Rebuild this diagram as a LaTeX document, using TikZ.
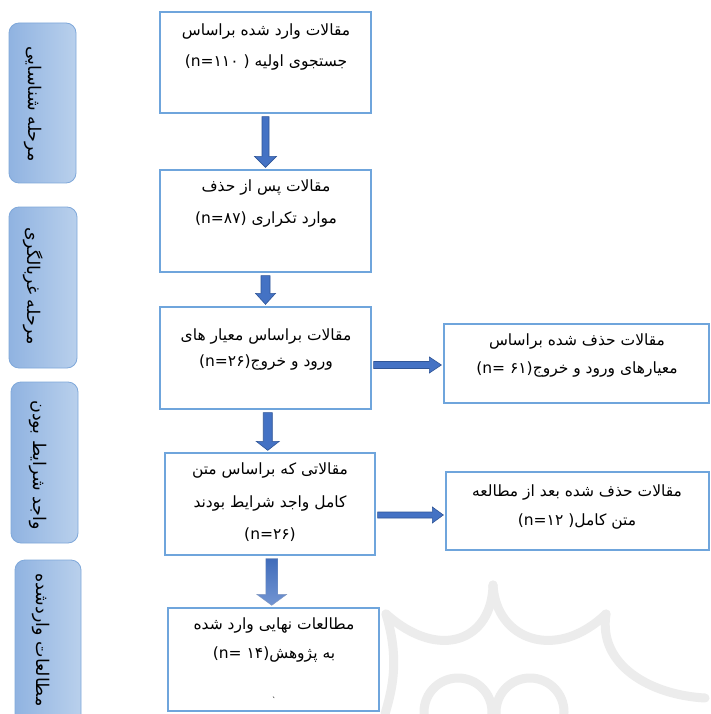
\documentclass[tikz,border=0pt]{standalone}
\usepackage{fontspec}
\usetikzlibrary{calc}
\TeXXeTstate=1
\newfontfamily\fa[Script=Arabic]{DejaVu Sans}
\newfontfamily\la{DejaVu Sans}
\definecolor{boxline}{HTML}{6FA5DC}
\definecolor{arrfill}{HTML}{4472C4}
\definecolor{arrline}{HTML}{2F5597}
\definecolor{lblL}{HTML}{90B3E1}
\definecolor{lblR}{HTML}{B9D0EC}
\definecolor{lblline}{HTML}{7FA8DA}
\definecolor{wm}{HTML}{ECECEC}
% Latin count in visual order: pre, digits, post
\newcommand{\cnt}[3]{\beginL\hbox{\la #1}\hbox{\la #2}\hbox{\la #3}\endL}
\tikzset{
  box/.style={draw=boxline, line width=1.3pt, fill=white, inner sep=0pt},
  txt/.style={font=\fa\fontsize{15.5}{18}\selectfont, inner sep=0pt, text=black},
  lbl/.style={draw=lblline, line width=0.8pt, rounded corners=10pt, left color=lblL, right color=lblR, inner sep=0pt},
  lbltxt/.style={font=\fa\fontsize{17.5}{20}\selectfont, inner sep=0pt, rotate=-90},
  blk/.style={fill=arrfill, draw=arrline, line width=0.6pt, line join=miter},
  blkg/.style={top color=arrfill!95!black, bottom color=arrfill!75!white, draw=arrline!60!white, line width=0.4pt},
}
% vertical block arrow: from, to, half shaft, half head, head length, style
\newcommand{\vblock}[6]{%
\path[#6] let \p1=(#1.south), \p2=(#2.north), \p3=($(#1.south)!.5!(#2.north)$) in
 (\x3-#3,\y1-3pt) -- (\x3+#3,\y1-3pt) -- (\x3+#3,\y2+#5+2pt) -- (\x3+#4,\y2+#5+2pt)
 -- (\x3,\y2+2pt) -- (\x3-#4,\y2+#5+2pt) -- (\x3-#3,\y2+#5+2pt) -- cycle;}
% horizontal block arrow: from, to, half shaft, half head, head length, y offset
\newcommand{\hblock}[6]{%
\path[blk] let \p1=(#1.east), \p2=(#2.west) in
 (\x1+2pt,\y2+#6-#3) -- (\x1+2pt,\y2+#6+#3) -- (\x2-2pt-#5,\y2+#6+#3) -- (\x2-2pt-#5,\y2+#6+#4)
 -- (\x2-2pt,\y2+#6) -- (\x2-2pt-#5,\y2+#6-#4) -- (\x2-2pt-#5,\y2+#6-#3) -- cycle;}
\begin{document}
\begin{tikzpicture}[x=1pt,y=-1pt]
\clip (0,0) rectangle (710,714);
\fill[white] (0,0) rectangle (710,714);
% watermark
\begin{scope}[draw=wm, line width=9pt, line cap=round]
\draw (493,585) .. controls (492,640) and (440,662) .. (386,614);
\draw (493,585) .. controls (496,640) and (556,662) .. (606,614);
\draw (606,614) .. controls (598,665) and (650,695) .. (705,698);
\draw (386,614) .. controls (400,660) and (392,690) .. (385,714);
\draw (458,712) circle (34);
\draw (530,712) circle (34);
\end{scope}
% side labels
\node[lbl, minimum width=67pt, minimum height=160pt] (L1) at (42.5,103) {};
\node[lbl, minimum width=68pt, minimum height=161pt] (L2) at (43,287.5) {};
\node[lbl, minimum width=67pt, minimum height=161pt] (L3) at (44.5,462.5) {};
\node[lbl, minimum width=66pt, minimum height=170pt] (L4) at (48,645) {};
\node[lbltxt] (L1t) at (33,104) {\beginR مرحله شناسایی\endR};
\node[lbltxt] (L2t) at (33,286) {\beginR مرحله غربالگری\endR};
\node[lbltxt] (L3t) at (38,465) {\beginR واجد شرایط بودن\endR};
\node[lbltxt] (L4t) at (41,640) {\beginR مطالعات واردشده\endR};
% boxes
\node[box, minimum width=211pt, minimum height=101pt] (b1) at (265.5,62.5) {};
\node[box, minimum width=211pt, minimum height=102pt] (b2) at (265.5,221) {};
\node[box, minimum width=211pt, minimum height=102pt] (b3) at (265.5,358) {};
\node[box, minimum width=210pt, minimum height=102pt] (b4) at (270,504) {};
\node[box, minimum width=265pt, minimum height=79pt] (b5) at (576.5,363.5) {};
\node[box, minimum width=263pt, minimum height=78pt] (b6) at (577.5,511) {};
\node[box, minimum width=211pt, minimum height=103pt] (b7) at (273.5,659.5) {};
% box texts
\node[txt] (b1a) at (266,32) {\beginR مقالات وارد شده براساس\endR};
\node[txt] (b1b) at (266,63) {\beginR جستجوی اولیه \cnt{(n=}{۱۱۰}{\ )}\endR};
\node[txt] (b2a) at (266,188) {\beginR مقالات پس از حذف\endR};
\node[txt] (b2b) at (266,220) {\beginR موارد تکراری \cnt{(n=}{۸۷}{)}\endR};
\node[txt] (b3a) at (266,337) {\beginR مقالات براساس معیار های\endR};
\node[txt] (b3b) at (266,363) {\beginR ورود و خروج\cnt{(n=}{۲۶}{)}\endR};
\node[txt] (b4a) at (270,470) {\beginR مقالاتی که براساس متن\endR};
\node[txt] (b4b) at (270,503) {\beginR کامل واجد شرایط بودند\endR};
\node[txt] (b4c) at (270,535) {\cnt{(n=}{۲۶}{)}};
\node[txt] (b5a) at (577,342) {\beginR مقالات حذف شده براساس\endR};
\node[txt] (b5b) at (577,370) {\beginR معیارهای ورود و خروج\cnt{(n=\ }{۶۱}{)}\endR};
\node[txt] (b6a) at (577,492) {\beginR مقالات حذف شده بعد از مطالعه\endR};
\node[txt] (b6b) at (577,521) {\beginR متن کامل\cnt{(n=}{۱۲}{\ )}\endR};
\node[txt] (b7a) at (274,625) {\beginR مطالعات نهایی وارد شده\endR};
\node[txt] (b7b) at (274,655) {\beginR به پژوهش\cnt{(n=\ }{۱۴}{)}\endR};
\node[txt, font=\la\fontsize{8}{9}\selectfont] (b7c) at (274,700) {`};
% arrows
\vblock{b1}{b2}{3.5pt}{11pt}{11pt}{blk}
\vblock{b2}{b3}{4.5pt}{10pt}{11pt}{blk}
\vblock{b3}{b4}{4.5pt}{11.5pt}{9pt}{blk}
\vblock{b4}{b7}{6pt}{15pt}{11pt}{blkg}
\hblock{b3}{b5}{3.5pt}{8pt}{12pt}{-1.5pt}
\hblock{b4}{b6}{3pt}{8pt}{11pt}{-4pt}
\end{tikzpicture}
\end{document}
